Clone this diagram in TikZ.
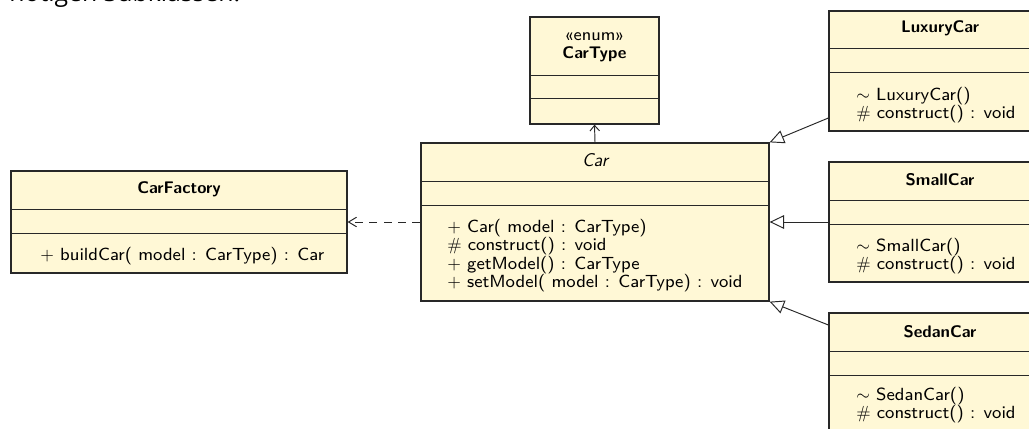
\documentclass[tikz,border=0pt]{standalone}
\usepackage{fontspec}
\newfontfamily\notefont{Open Sans}
\newfontfamily\opsfamily{lmsans8-regular.otf}
\usetikzlibrary{arrows.meta,fit,calc}
\definecolor{classfill}{RGB}{255,248,214}
\definecolor{classline}{RGB}{40,40,40}
% operation lists: fixed line pitch regardless of glyph height
\newcommand\opsfont{\opsfamily\fontsize{11}{11.4}\selectfont\lineskiplimit=-20pt\relax}
\tikzset{
  classbox/.style={rectangle, draw=classline, fill=classfill, line width=0.8pt, inner sep=0pt},
  sepline/.style={draw=classline, line width=0.8pt},
  cname/.style={font=\sffamily\bfseries\fontsize{10.5}{12}\selectfont, inner sep=0pt},
  stereo/.style={font=\opsfamily\fontsize{10.8}{12}\selectfont, inner sep=0pt},
  ops/.style={font=\opsfont, align=left, anchor=north west, inner sep=0pt},
  inherit/.style={draw=classline, line width=0.6pt, -{Triangle[length=9pt,width=8.5pt,fill=white]}},
  assoc/.style={draw=classline, line width=0.6pt, -{Straight Barb[length=3.5pt,width=6pt]}},
  depend/.style={draw=classline, line width=0.6pt, dash pattern=on 5pt off 4pt, -{Straight Barb[length=5pt,width=6pt]}}
}
\begin{document}
\begin{tikzpicture}[x=0.625pt,y=-0.625pt]
\useasboundingbox (0,0) rectangle (1029,428);

% running text above the diagram
\node[font=\notefont\fontsize{15.5}{18}\selectfont, anchor=base west, inner sep=0pt] (note) at (9,2) {nötigen Subklassen.};

% ---- CarType ----
\node[classbox, fit={(530,17) (659,124)}] (cartype) {};
\draw[sepline] ($(cartype.north west)+(0,59)$) -- ($(cartype.north east)+(0,59)$);
\draw[sepline] ($(cartype.north west)+(0,82)$) -- ($(cartype.north east)+(0,82)$);
\node[stereo] (cartypest) at ($(cartype.north)+(0,20)$) {«enum»};
\node[cname] (cartypename) at ($(cartype.north)+(0,38)$) {CarType};

% ---- Car ----
\node[classbox, fit={(421,143) (769,301)}] (car) {};
\draw[sepline] ($(car.north west)+(0,39)$) -- ($(car.north east)+(0,39)$);
\draw[sepline] ($(car.north west)+(0,63)$) -- ($(car.north east)+(0,63)$);
\node[stereo, font=\sffamily\itshape\fontsize{11.5}{12}\selectfont] (carname) at ($(car.north)+(0,18)$) {Car};
\node[ops] (carops) at (447,219) {$+$ Car( model : CarType)\\
$\#$ construct() : void\\
$+$ getModel() : CarType\\
$+$ setModel( model : CarType) : void};

% ---- CarFactory ----
\node[classbox, fit={(11,171) (347,273)}] (factory) {};
\draw[sepline] ($(factory.north west)+(0,39)$) -- ($(factory.north east)+(0,39)$);
\draw[sepline] ($(factory.north west)+(0,63)$) -- ($(factory.north east)+(0,63)$);
\node[cname] (factoryname) at ($(factory.north)+(0,19)$) {CarFactory};
\node[ops] (factoryops) at (40,247) {$+$ buildCar( model : CarType) : Car};

% ---- LuxuryCar ----
\node[classbox, fit={(829,11) (1051,131)}] (luxury) {};
\draw[sepline] ($(luxury.north west)+(0,38)$) -- ($(luxury.north east)+(0,38)$);
\draw[sepline] ($(luxury.north west)+(0,62)$) -- ($(luxury.north east)+(0,62)$);
\node[cname] (luxuryname) at ($(luxury.north)+(0,18)$) {LuxuryCar};
\node[ops] (luxuryops) at (856,87) {$\sim$ LuxuryCar()\\
$\#$ construct() : void};

% ---- SmallCar ----
\node[classbox, fit={(829,162) (1051,282)}] (small) {};
\draw[sepline] ($(small.north west)+(0,39)$) -- ($(small.north east)+(0,39)$);
\draw[sepline] ($(small.north west)+(0,63)$) -- ($(small.north east)+(0,63)$);
\node[cname] (smallname) at ($(small.north)+(0,18)$) {SmallCar};
\node[ops] (smallops) at (856,238) {$\sim$ SmallCar()\\
$\#$ construct() : void};

% ---- SedanCar ----
\node[classbox, fit={(829,313) (1051,436)}] (sedan) {};
\draw[sepline] ($(sedan.north west)+(0,39)$) -- ($(sedan.north east)+(0,39)$);
\draw[sepline] ($(sedan.north west)+(0,63)$) -- ($(sedan.north east)+(0,63)$);
\node[cname] (sedanname) at ($(sedan.north)+(0,19)$) {SedanCar};
\node[ops] (sedanops) at (856,387) {$\sim$ SedanCar()\\
$\#$ construct() : void};

% ---- relations ----
\coordinate (depy) at (0,222);
\coordinate (luxy) at (0,118);
\coordinate (smally) at (0,222);
\coordinate (sedany) at (0,325);

\draw[assoc] (car.north) -- (cartype.south);
\draw[depend] (car.west |- depy) -- (factory.east |- depy);
\draw[inherit] (luxury.west |- luxy) -- (car.north east);
\draw[inherit] (small.west |- smally) -- (car.east |- smally);
\draw[inherit] (sedan.west |- sedany) -- (car.south east);
\end{tikzpicture}
\end{document}
